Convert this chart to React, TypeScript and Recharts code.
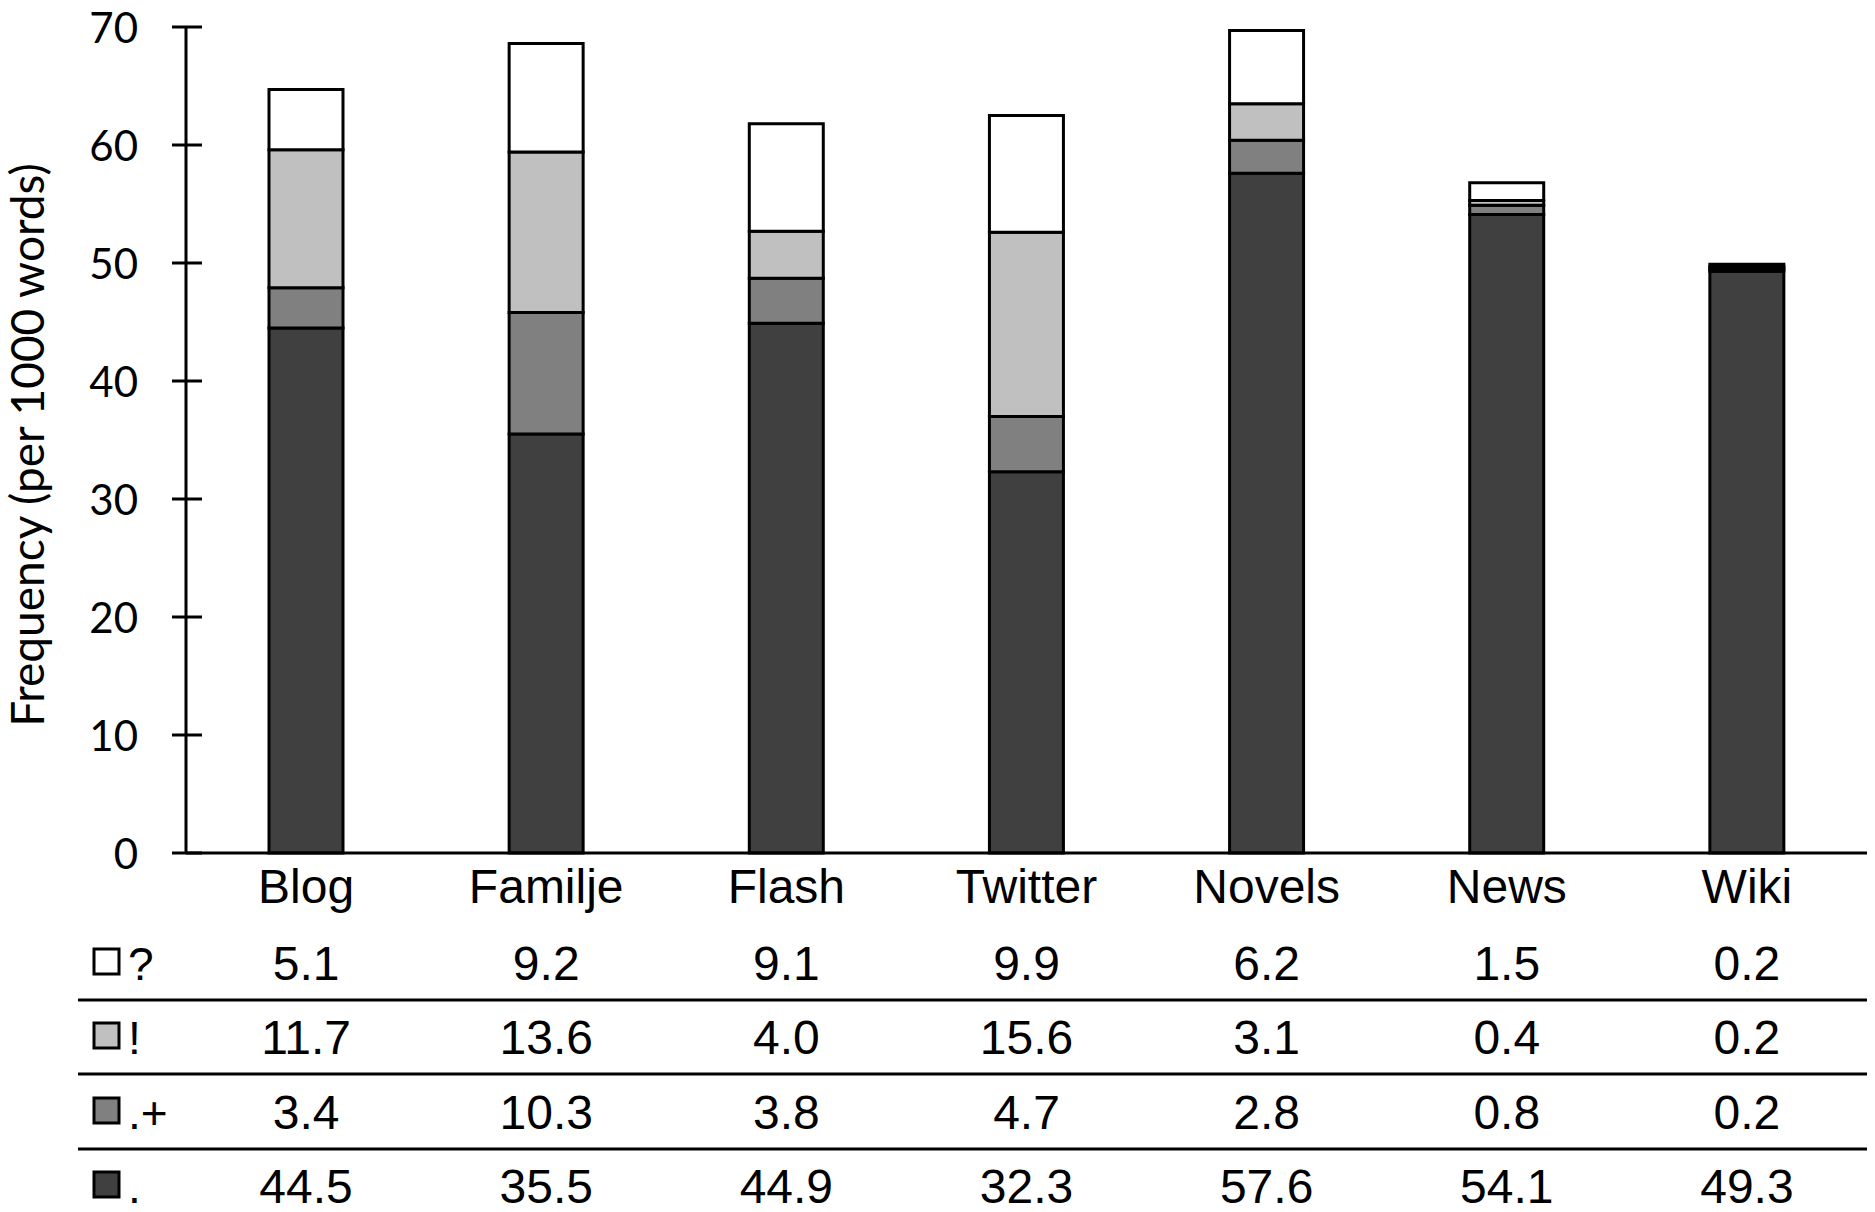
import React from "react"
import { Bar, BarChart, XAxis, YAxis } from "recharts"

const categories = ["Blog", "Familje", "Flash", "Twitter", "Novels", "News", "Wiki"]
const questionVals = [5.1, 9.2, 9.1, 9.9, 6.2, 1.5, 0.2]
const exclaimVals = [11.7, 13.6, 4.0, 15.6, 3.1, 0.4, 0.2]
const periodPlusVals = [3.4, 10.3, 3.8, 4.7, 2.8, 0.8, 0.2]
const periodVals = [44.5, 35.5, 44.9, 32.3, 57.6, 54.1, 49.3]
const yTicks = [0, 10, 20, 30, 40, 50, 60, 70]

// table order, top row first
const series = [
  { key: "question", label: "?", fill: "#ffffff", values: questionVals },
  { key: "exclaim", label: "!", fill: "#c0c0c0", values: exclaimVals },
  { key: "periodPlus", label: ".+", fill: "#808080", values: periodPlusVals },
  { key: "period", label: ".", fill: "#404040", values: periodVals },
]

const data = categories.map((name, i) => {
  const row: Record<string, string | number> = { name }
  series.forEach((s) => (row[s.key] = s.values[i]))
  return row
})

const W = 1875
const H = 1212
const ARIAL = "'Liberation Sans', Arial, sans-serif"
const CALIBRI = "Lato, 'Open Sans', sans-serif"

// baselines / separator lines, relative to the x axis line
const labelBase = 50
const rowBases = [127, 201, 276, 350]
const lineOffsets = [147, 221, 296]

function TableTick(props: any) {
  const { x, y, payload, index } = props
  const i = payload?.index ?? index
  return (
    <g>
      <text x={x} y={y + labelBase} textAnchor="middle" fontFamily={ARIAL} fontSize={48} fill="#000">
        {payload.value}
      </text>
      {series.map((s, r) => (
        <text
          key={s.key}
          x={x}
          y={y + rowBases[r]}
          textAnchor="middle"
          fontFamily={ARIAL}
          fontSize={48}
          fill="#000"
        >
          {s.values[i].toFixed(1)}
        </text>
      ))}
      {i === 0 && (
        <g>
          {lineOffsets.map((o) => (
            <line key={o} x1={78} x2={W - 8} y1={y + o} y2={y + o} stroke="#000" strokeWidth={3} />
          ))}
          {series.map((s, r) => (
            <g key={s.key}>
              <rect
                x={94}
                y={y + rowBases[r] - 31}
                width={25}
                height={25}
                fill={s.fill}
                stroke="#000"
                strokeWidth={3}
              />
              <text x={128} y={y + rowBases[r]} fontFamily={ARIAL} fontSize={46} fill="#000">
                {s.label}
              </text>
            </g>
          ))}
        </g>
      )}
    </g>
  )
}

function YTick(props: any) {
  const { x, y, payload } = props
  return (
    <g>
      <line x1={x - 14} x2={x + 16} y1={y} y2={y} stroke="#000" strokeWidth={3} />
      <text
        x={x - 48}
        y={y}
        textAnchor="end"
        dominantBaseline="central"
        fontFamily={CALIBRI}
        fontSize={42}
        fill="#000"
      >
        {payload.value}
      </text>
    </g>
  )
}

function YLabel(props: any) {
  const vb = props.viewBox || { y: 27, height: 826 }
  const cy = vb.y + vb.height / 2 + 5
  const cx = 44
  return (
    <text
      x={cx}
      y={cy}
      transform={`rotate(-90 ${cx} ${cy})`}
      textAnchor="middle"
      fontFamily={CALIBRI}
      fontSize={46}
      fill="#000"
    >
      Frequency (per 1000 words)
    </text>
  )
}

const stackOrder = [...series].reverse()

export default function App() {
  return (
    <div style={{ position: "absolute", left: 0, top: 0, width: W, height: H, background: "#fff" }}>
      <BarChart
        width={W}
        height={H}
        data={data}
        margin={{ top: 27, right: 8, left: 0, bottom: 0 }}
        barSize={74}
      >
        <XAxis
          dataKey="name"
          height={359}
          interval={0}
          tickLine={false}
          tickSize={0}
          tickMargin={0}
          axisLine={{ stroke: "#000", strokeWidth: 3 }}
          tick={(p: any) => <TableTick {...p} />}
        />
        <YAxis
          width={186}
          domain={[0, 70]}
          ticks={yTicks}
          interval={0}
          tickLine={false}
          tickSize={0}
          tickMargin={0}
          axisLine={{ stroke: "#000", strokeWidth: 3 }}
          tick={(p: any) => <YTick {...p} />}
          label={{ position: "insideLeft", content: (p: any) => <YLabel {...p} /> }}
        />
        {stackOrder.map((s) => (
          <Bar
            key={s.key}
            dataKey={s.key}
            stackId="a"
            fill={s.fill}
            stroke="#000"
            strokeWidth={3}
            isAnimationActive={false}
          />
        ))}
      </BarChart>
    </div>
  )
}
